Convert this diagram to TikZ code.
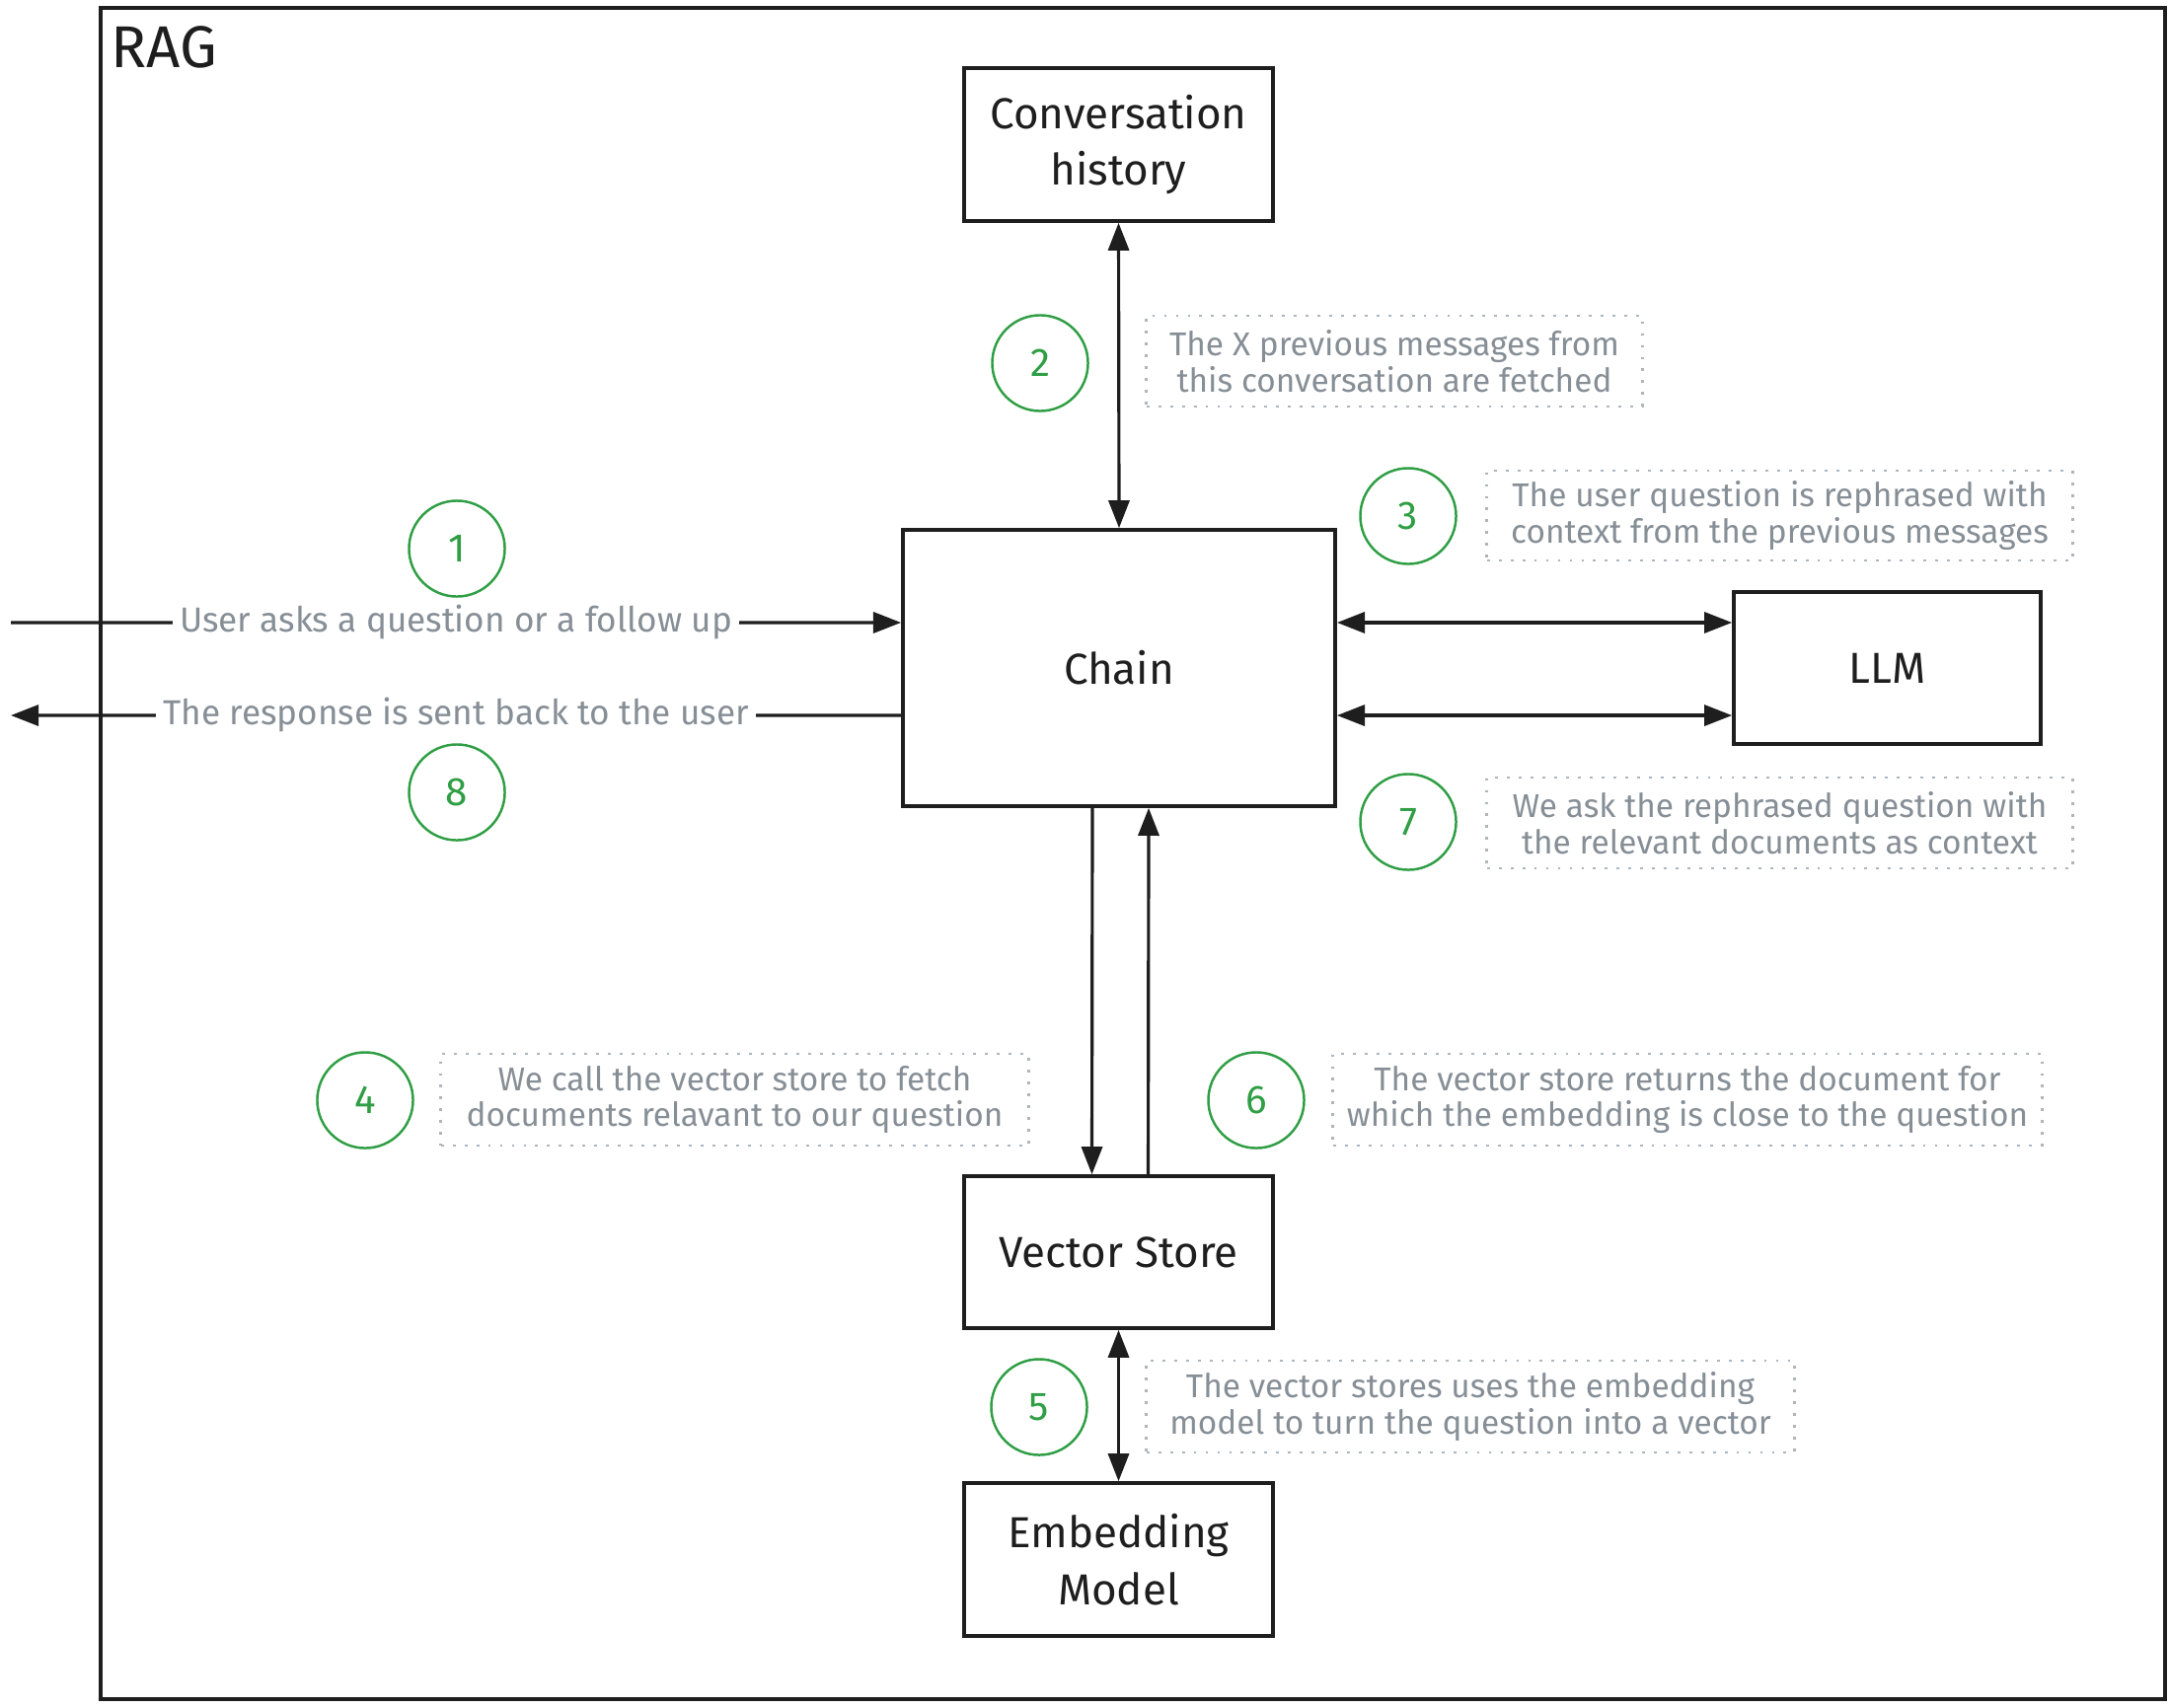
\documentclass[tikz,border=0pt]{standalone}
\usepackage{fontspec}
\setmainfont{Fira Sans}
\usetikzlibrary{arrows.meta}

\definecolor{ink}{HTML}{1E1E1E}
\definecolor{stepgreen}{HTML}{2F9E44}
\definecolor{notegray}{HTML}{868E96}
\definecolor{dotgray}{HTML}{ADB5BD}

\tikzset{
    block/.style    = {draw = ink, line width = 1pt, text = ink, align = center,
                       font = \fontsize{12.5}{16.3}\selectfont},
    stepnum/.style  = {draw = stepgreen, circle, line width = 0.7pt, minimum size = 0.97cm,
                       text = stepgreen, font = \fontsize{11.5}{13}\selectfont},
    note/.style     = {draw = dotgray, line width = 0.8pt, dash pattern = on 0.8pt off 2.6pt,
                       text = notegray, align = center, inner sep = 0pt,
                       font = \fontsize{9.5}{10.5}\selectfont},
    flowtext/.style = {fill = white, text = notegray, inner xsep = 2pt,
                       font = \fontsize{10}{11}\selectfont},
    tip/.tip        = {Triangle[length = 8pt, width = 6pt]},
    flow/.style     = {draw = ink, line width = 0.9pt, -tip},
    twoway/.style   = {draw = ink, line width = 0.9pt, tip-tip},
}

\begin{document}
\begin{tikzpicture}[x = 0.01cm, y = -0.01cm]

    \def\boxw {3.13cm}
    \def\boxh {1.55cm}

    \useasboundingbox (0, 0) rectangle (2198, 1730);

    % frame
    \draw [ink, line width = 1.1pt] (102, 8) rectangle (2194, 1722);
    \node [anchor = base west, text = ink, inner sep = 0pt,
           font = \fontsize{17}{20}\selectfont] (rag) at (112, 68) {RAG};

    % boxes
    \node [block, minimum width = \boxw, minimum height = \boxh] (history) at (1133.5, 146.5)
        {Conversation\\history};
    \node [block, minimum width = 4.38cm, minimum height = 2.80cm] (chain) at (1134, 677) {Chain};
    \node [block, minimum width = 3.11cm, minimum height = 1.54cm] (llm) at (1912.5, 677) {LLM};
    \node [block, minimum width = \boxw, minimum height = 1.54cm] (store) at (1133.5, 1269)
        {Vector Store};
    \node [block, minimum width = \boxw, minimum height = \boxh] (embed) at (1133.5, 1580.5)
        {Embedding\\Model};

    % user side
    \coordinate (userin)  at (11, 631);
    \coordinate (userout) at (11, 725);
    \draw [flow] (userin) -- node [flowtext] (ask) {User asks a question or a follow up}
        ([yshift = 0.46cm]chain.west);
    \draw [flow] ([yshift = -0.48cm]chain.west)
        -- node [flowtext] (reply) {The response is sent back to the user} (userout);

    % connectors
    \draw [twoway] (history.south) -- (chain.north);
    \draw [twoway] ([yshift = 0.46cm]chain.east) -- ([yshift = 0.46cm]llm.west);
    \draw [twoway] ([yshift = -0.48cm]chain.east) -- ([yshift = -0.48cm]llm.west);
    \draw [flow] ([xshift = -0.27cm]chain.south) -- ([xshift = -0.27cm]store.north);
    \draw [flow] ([xshift = 0.30cm]store.north) -- ([xshift = 0.30cm]chain.south);
    \draw [twoway] (store.south) -- (embed.north);

    % step numbers
    \foreach \n/\x/\y in {1/463/556, 2/1054/368, 3/1427/523, 4/370/1115,
                          5/1053/1426, 6/1273/1115, 7/1427/833, 8/463/803}
        \node [stepnum] (step\n) at (\x, \y) {\n};

    % notes
    \node [note, minimum width = 5.02cm, minimum height = 0.92cm] (note2) at (1413, 366)
        {The X previous messages from\\this conversation are fetched};
    \node [note, minimum width = 5.93cm, minimum height = 0.91cm] (note3) at (1803.5, 522.5)
        {The user question is rephrased with\\context from the previous messages};
    \node [note, minimum width = 5.93cm, minimum height = 0.92cm] (note7) at (1803.5, 834)
        {We ask the rephrased question with\\the relevant documents as context};
    \node [note, minimum width = 5.95cm, minimum height = 0.93cm] (note4) at (744.5, 1114.5)
        {We call the vector store to fetch\\documents relavant to our question};
    \node [note, minimum width = 7.18cm, minimum height = 0.93cm] (note6) at (1710, 1114.5)
        {The vector store returns the document for\\which the embedding is close to the question};
    \node [note, minimum width = 6.56cm, minimum height = 0.93cm] (note5) at (1490, 1425.5)
        {The vector stores uses the embedding\\model to turn the question into a vector};

\end{tikzpicture}
\end{document}
